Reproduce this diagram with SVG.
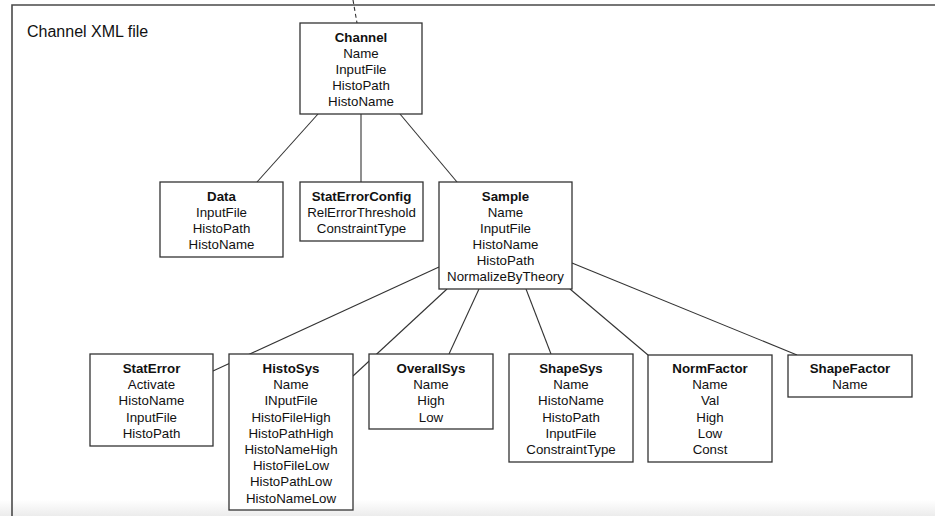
<svg xmlns="http://www.w3.org/2000/svg" width="935" height="516" viewBox="0 0 935 516">
<defs>
<linearGradient id="fade" x1="0" y1="0" x2="0" y2="1">
<stop offset="0" stop-color="#ffffff"/>
<stop offset="1" stop-color="#ececec"/>
</linearGradient>
<style>
.box{fill:#fff;stroke:#333;stroke-width:1.3}
.frame{fill:none;stroke:#4a4a4a;stroke-width:1.6}
.conn line{stroke:#333;stroke-width:1.1}
text{font-family:"Liberation Sans",Arial,Helvetica,sans-serif;font-size:13.3px;fill:#111;text-anchor:middle}
.t{font-weight:bold}
.label{font-size:16px;text-anchor:start}
</style>
</defs>
<rect x="0" y="0" width="935" height="516" fill="#fff"/>
<rect x="0" y="500" width="935" height="16" fill="url(#fade)"/>
<path class="frame" d="M12,516 V5 H935"/>
<text class="label" x="27" y="37">Channel XML file</text>
<g class="conn" id="connectors">
<line x1="353" y1="0" x2="357" y2="23" stroke-dasharray="4,3"/>
<line x1="318" y1="114" x2="257" y2="182"/>
<line x1="361" y1="114" x2="361" y2="182"/>
<line x1="400" y1="114" x2="457" y2="182"/>
<line x1="439" y1="267" x2="213" y2="371"/>
<line x1="447" y1="289" x2="353" y2="376"/>
<line x1="479" y1="289" x2="449" y2="354"/>
<line x1="526" y1="289" x2="551" y2="354"/>
<line x1="570" y1="289" x2="648" y2="355"/>
<line x1="572" y1="263" x2="797" y2="355"/>
</g>
<g id="channel">
<rect class="box" x="300" y="23" width="122" height="91"/>
<text class="t" x="361" y="42">Channel</text>
<text x="361" y="58">Name</text>
<text x="361" y="74">InputFile</text>
<text x="361" y="90">HistoPath</text>
<text x="361" y="106">HistoName</text>
</g>
<g id="data">
<rect class="box" x="160" y="182" width="123" height="75"/>
<text class="t" x="221.5" y="201">Data</text>
<text x="221.5" y="217">InputFile</text>
<text x="221.5" y="233">HistoPath</text>
<text x="221.5" y="249">HistoName</text>
</g>
<g id="staterrorconfig">
<rect class="box" x="300" y="182" width="123" height="59"/>
<text class="t" x="361.5" y="201">StatErrorConfig</text>
<text x="361.5" y="217">RelErrorThreshold</text>
<text x="361.5" y="233">ConstraintType</text>
</g>
<g id="sample">
<rect class="box" x="439" y="182" width="133" height="107"/>
<text class="t" x="505.5" y="201">Sample</text>
<text x="505.5" y="217">Name</text>
<text x="505.5" y="233">InputFile</text>
<text x="505.5" y="249">HistoName</text>
<text x="505.5" y="265">HistoPath</text>
<text x="505.5" y="281">NormalizeByTheory</text>
</g>
<g id="staterror">
<rect class="box" x="90" y="354" width="123" height="92"/>
<text class="t" x="151.5" y="373">StatError</text>
<text x="151.5" y="389.2">Activate</text>
<text x="151.5" y="405.4">HistoName</text>
<text x="151.5" y="421.6">InputFile</text>
<text x="151.5" y="437.8">HistoPath</text>
</g>
<g id="histosys">
<rect class="box" x="229" y="354" width="124" height="156"/>
<text class="t" x="291" y="373">HistoSys</text>
<text x="291" y="389.2">Name</text>
<text x="291" y="405.4">INputFile</text>
<text x="291" y="421.6">HistoFileHigh</text>
<text x="291" y="437.8">HistoPathHigh</text>
<text x="291" y="454">HistoNameHigh</text>
<text x="291" y="470.2">HistoFileLow</text>
<text x="291" y="486.4">HistoPathLow</text>
<text x="291" y="502.6">HistoNameLow</text>
</g>
<g id="overallsys">
<rect class="box" x="369" y="354" width="124" height="75"/>
<text class="t" x="431" y="373">OverallSys</text>
<text x="431" y="389.2">Name</text>
<text x="431" y="405.4">High</text>
<text x="431" y="421.6">Low</text>
</g>
<g id="shapesys">
<rect class="box" x="509" y="354" width="124" height="108"/>
<text class="t" x="571" y="373">ShapeSys</text>
<text x="571" y="389.2">Name</text>
<text x="571" y="405.4">HistoName</text>
<text x="571" y="421.6">HistoPath</text>
<text x="571" y="437.8">InputFile</text>
<text x="571" y="454">ConstraintType</text>
</g>
<g id="normfactor">
<rect class="box" x="648" y="355" width="124" height="107"/>
<text class="t" x="710" y="373">NormFactor</text>
<text x="710" y="389.2">Name</text>
<text x="710" y="405.4">Val</text>
<text x="710" y="421.6">High</text>
<text x="710" y="437.8">Low</text>
<text x="710" y="454">Const</text>
</g>
<g id="shapefactor">
<rect class="box" x="788" y="355" width="124" height="42"/>
<text class="t" x="850" y="373">ShapeFactor</text>
<text x="850" y="389.2">Name</text>
</g>
</svg>
